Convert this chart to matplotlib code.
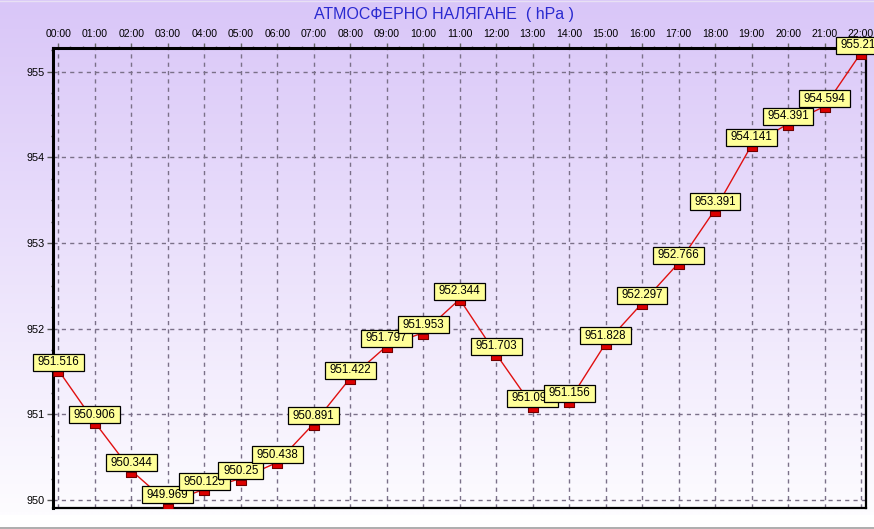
import numpy as np
import matplotlib
matplotlib.use("Agg")
import matplotlib.pyplot as plt
from matplotlib.path import Path
from matplotlib.ticker import MultipleLocator

hours = ["00:00", "01:00", "02:00", "03:00", "04:00", "05:00", "06:00", "07:00",
         "08:00", "09:00", "10:00", "11:00", "12:00", "13:00", "14:00", "15:00",
         "16:00", "17:00", "18:00", "19:00", "20:00", "21:00", "22:00"]
pressure = [951.516, 950.906, 950.344, 949.969, 950.125, 950.25, 950.438, 950.891,
            951.422, 951.797, 951.953, 952.344, 951.703, 951.094, 951.156, 951.828,
            952.297, 952.766, 953.391, 954.141, 954.391, 954.594, 955.219]
labels = ["951.516", "950.906", "950.344", "949.969", "950.125", "950.25", "950.438",
          "950.891", "951.422", "951.797", "951.953", "952.344", "951.703", "951.094",
          "951.156", "951.828", "952.297", "952.766", "953.391", "954.141", "954.391",
          "954.594", "955.219"]
yticks = [950, 951, 952, 953, 954, 955]
title = "АТМОСФЕРНО НАЛЯГАНЕ  ( hPa )"

plt.rcParams['font.family'] = ['Liberation Sans', 'DejaVu Sans']

W, H = 874, 529
fig = plt.figure(figsize=(W / 100, H / 100), dpi=100)

# background gradient
bg = fig.add_axes([0, 0, 1, 1], zorder=0)
top = np.array([217, 198, 248]) / 255.0
bot = np.array([253, 252, 255]) / 255.0
rows = np.arange(H)
t = np.clip(rows / 512.0, 0, 1)[:, None]
col = top * (1 - t) + bot * t
col[515:] = 1.0
img = np.repeat(col[:, None, :], 4, axis=1)
bg.imshow(img, aspect='auto', extent=[0, 1, 0, 1], interpolation='bilinear')
bg.axhline(1 - 527.5 / H, color='#a0a0a0', lw=1.2)
bg.axhline(1 - 0.5 / H, color='#e8e0f4', lw=1.0)
bg.set_xlim(0, 1)
bg.set_ylim(0, 1)
bg.axis('off')

# main axes
x0, x1 = 52.7, 866.0
y0, y1 = 48.3, 508.3
ax = fig.add_axes([x0 / W, 1 - y1 / H, (x1 - x0) / W, (y1 - y0) / H], zorder=1)
ax.patch.set_alpha(0)

xs = np.arange(len(hours))
ax.set_xlim(-0.154, 22.137)
ax.set_ylim(949.903, 955.273)

ax.grid(True, which='major', color='#7a7088', linestyle=(0, (3, 3)), linewidth=1)

ax.plot(xs, pressure, color='#e01010', lw=1, zorder=3)
# rectangle marker hanging just below the data point
rect = Path([(-1, -1.05), (1, -1.05), (1, -0.1), (-1, -0.1), (-1, -1.05)])
ax.plot(xs, pressure, linestyle='none', marker=rect, markersize=8.0,
        markerfacecolor='#dd0000', markeredgecolor='#700000', markeredgewidth=0.8,
        zorder=4)


def label_box(x0, y0, width, height, mutation_size):
    px = 0.40 * mutation_size
    py = 0.22 * mutation_size
    xa, xb = x0 - px, x0 + width + px
    ya, yb = y0 - py, y0 + height + py
    return Path([(xa, ya), (xb, ya), (xb, yb), (xa, yb), (xa, ya)], closed=True)


for xi, yi, lab in zip(xs, pressure, labels):
    ax.annotate(lab, (xi, yi), xytext=(0, 5.6), textcoords='offset points',
                ha='center', va='center', fontsize=8.3, color='black',
                bbox=dict(boxstyle=label_box, fc='#ffff99', ec='black', lw=0.9),
                annotation_clip=False, zorder=5)

ax.xaxis.tick_top()
ax.set_xticks(xs)
ax.set_xticklabels(hours, fontsize=7.6)
ax.xaxis.set_minor_locator(MultipleLocator(1 / 3))
ax.set_yticks(yticks)
ax.set_yticklabels([str(v) for v in yticks], fontsize=7.8)
ax.yaxis.set_minor_locator(MultipleLocator(0.25))
ax.tick_params(axis='x', which='major', length=3.5, width=1, pad=3.0, color='#666666')
ax.tick_params(axis='x', which='minor', length=1.5, width=1, color='#777777')
ax.tick_params(axis='y', which='major', length=4, width=1, pad=1.5, color='#555555')
ax.tick_params(axis='y', which='minor', length=1.5, width=1, color='#555555')

for side, lw in [('left', 2.2), ('top', 2.2), ('bottom', 1.6), ('right', 1.6)]:
    ax.spines[side].set_linewidth(lw)
    ax.spines[side].set_color('black')

fig.text(444 / W, 1 - 15 / H, title, ha='center', va='center', fontsize=11.5,
         color='#2a2ad0')

fig.savefig('out.png', dpi=100)
